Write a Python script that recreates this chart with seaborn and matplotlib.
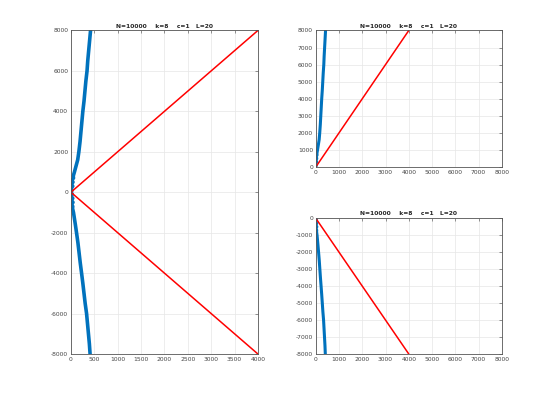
import matplotlib
matplotlib.use("Agg")
import matplotlib.pyplot as plt
import seaborn as sns
import pandas as pd

# blue walk, upper and lower branch
blue_up_y = [0, 100, 200, 300, 400, 500, 600, 700, 800, 1000, 1300, 1600, 2000, 2500, 3000, 3500,
             4000, 4500, 5000, 5500, 6000, 6500, 7000, 7500, 8000]
blue_up_x = [0, 25, 5, 40, 10, 45, 20, 55, 50, 75, 110, 145, 170, 195, 215, 235,
             255, 280, 300, 320, 345, 360, 380, 400, 420]
blue_dn_y = [0, -100, -200, -300, -400, -500, -600, -700, -800, -1000, -1300, -1600, -2000,
             -2500, -3000, -3500, -4000, -4500, -5000, -5500, -6000, -6500, -7000, -7500, -8000]
blue_dn_x = [0, 30, 5, 40, 10, 45, 15, 40, 35, 55, 75, 95, 120,
             150, 175, 200, 228, 255, 280, 305, 335, 355, 375, 395, 410]

# red reference lines
red_x = [0, 4000]
red_up_y = [0, 8000]
red_dn_y = [0, -8000]

title = "N=10000    k=8    c=1   L=20"
blue = "#0072BD"
red = "#FF0000"

sns.set_style("whitegrid", {"grid.color": "#e6e6e6", "axes.edgecolor": "#555555"})
plt.rcParams["font.family"] = ["DejaVu Sans"]
plt.rcParams["axes.unicode_minus"] = False

fig = plt.figure(figsize=(5.54, 3.98), dpi=100)
ax_l = fig.add_axes([0.128, 0.1106, 0.3375, 0.8128])
ax_t = fig.add_axes([0.570, 0.5804, 0.3357, 0.343])
ax_b = fig.add_axes([0.570, 0.1106, 0.3357, 0.341])


def draw(ax, parts):
    for xs, ys, col, lw in parts:
        df = pd.DataFrame({"x": xs, "y": ys})
        sns.lineplot(data=df, x="x", y="y", sort=False, estimator=None,
                     color=col, lw=lw, ax=ax)


draw(ax_l, [(blue_up_x, blue_up_y, blue, 2.6), (blue_dn_x, blue_dn_y, blue, 2.6),
            (red_x, red_up_y, red, 1.1), (red_x, red_dn_y, red, 1.1)])
draw(ax_t, [(blue_up_x, blue_up_y, blue, 2.2), (red_x, red_up_y, red, 1.1)])
draw(ax_b, [(blue_dn_x, blue_dn_y, blue, 2.2), (red_x, red_dn_y, red, 1.1)])

ax_l.set_xlim(0, 4000)
ax_l.set_ylim(-8000, 8000)
ax_l.set_xticks(range(0, 4001, 500))
ax_l.set_yticks(range(-8000, 8001, 2000))

ax_t.set_xlim(0, 8000)
ax_t.set_ylim(0, 8000)
ax_t.set_xticks(range(0, 8001, 1000))
ax_t.set_yticks(range(0, 8001, 1000))

ax_b.set_xlim(0, 8000)
ax_b.set_ylim(-8000, 0)
ax_b.set_xticks(range(0, 8001, 1000))
ax_b.set_yticks(range(-8000, 1, 1000))

for ax in (ax_l, ax_t, ax_b):
    ax.set_xlabel("")
    ax.set_ylabel("")
    ax.set_title(title, fontsize=4.3, fontweight="bold", pad=2)
    ax.tick_params(direction="in", length=2.5, width=0.5, labelsize=4.3,
                   top=True, right=True, pad=2, colors="#666666", labelcolor="#444444")
    ax.grid(True, lw=0.5)
    for s in ax.spines.values():
        s.set_linewidth(0.6)

fig.savefig("out.png", dpi=100)
